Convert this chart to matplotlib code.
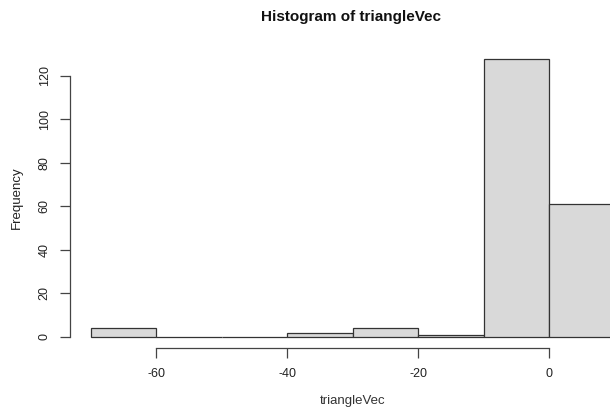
import matplotlib
matplotlib.use('Agg')
import matplotlib.pyplot as plt
import numpy as np

plt.rcParams['font.family'] = ['Liberation Sans', 'DejaVu Sans']

# histogram bins (breaks) and counts
bin_edges = [-70, -60, -50, -40, -30, -20, -10, 0, 10]
counts = [4, 0, 0, 2, 4, 1, 128, 61]
x_ticks = [-60, -40, -20, 0]
y_ticks = [0, 20, 40, 60, 80, 100, 120]

fig = plt.figure(figsize=(6.1, 4.09), dpi=100)
ax = fig.add_axes([0.1148, 0.149, 0.927, 0.735])

edges = np.array(bin_edges)
widths = np.diff(edges)
ax.bar(edges[:-1], counts, width=widths, align='edge',
       color='#d9d9d9', edgecolor='#333333', linewidth=0.9)

# R style 4% padding
xr = edges[-1] - edges[0]
ax.set_xlim(edges[0] - 0.04 * xr, edges[-1] + 0.04 * xr)
ymax = max(counts)
ax.set_ylim(-0.04 * ymax, ymax * 1.04)

ax.spines['top'].set_visible(False)
ax.spines['right'].set_visible(False)
ax.spines['left'].set_bounds(y_ticks[0], y_ticks[-1])
ax.spines['bottom'].set_bounds(x_ticks[0], x_ticks[-1])
for s in ['left', 'bottom']:
    ax.spines[s].set_color('#444444')
    ax.spines[s].set_linewidth(0.9)

ax.set_xticks(x_ticks)
ax.set_yticks(y_ticks)
ax.set_xticklabels([str(t) for t in x_ticks])
ax.set_yticklabels([str(t) for t in y_ticks], rotation=90, va='center')
ax.tick_params(axis='both', length=7, width=0.9, color='#444444',
               labelsize=9, labelcolor='#222222', pad=7)

ax.set_xlabel('triangleVec', fontsize=9.5, color='#333333', labelpad=11)
ax.set_ylabel('Frequency', fontsize=9.5, color='#222222', labelpad=11)
fig.text(0.575, 0.958, 'Histogram of triangleVec', ha='center', va='center',
         fontsize=11, fontweight='bold', color='#111111')

fig.savefig('out.png', dpi=100)
